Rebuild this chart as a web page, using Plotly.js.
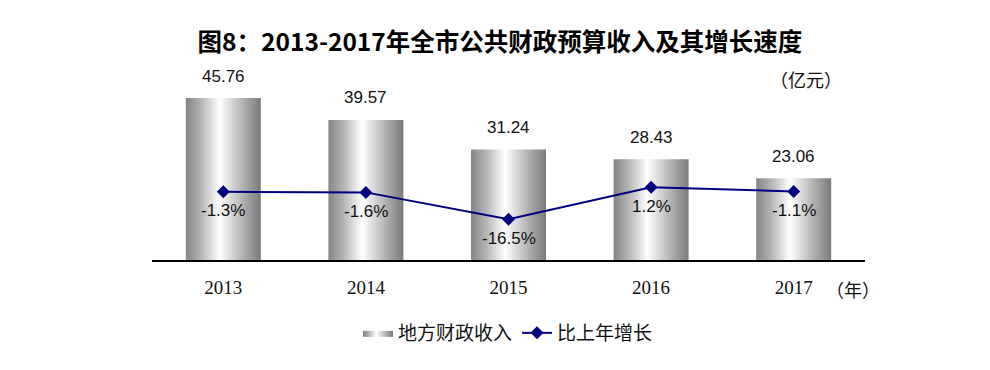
<!DOCTYPE html>
<html>
<head>
<meta charset="utf-8">
<script src="https://cdn.plot.ly/plotly-3.0.1.min.js"></script>
<style>html,body{margin:0;padding:0;background:#fff;}#chart{width:990px;height:370px;}</style>
</head>
<body>
<div id="chart"></div>
<script>
const years = ['2013', '2014', '2015', '2016', '2017'];
const revenue = [45.76, 39.57, 31.24, 28.43, 23.06];
const growth = [-1.3, -1.6, -16.5, 1.2, -1.1];
const revenueLabels = ['45.76', '39.57', '31.24', '28.43', '23.06'];
const growthLabels = ['-1.3%', '-1.6%', '-16.5%', '1.2%', '-1.1%'];
const unitY = '（亿元）';
const unitX = '（年）';

const idx = years.map((_, i) => i);
const hw = 0.263;
const gradScale = [[0, '#858585'], [0.2, '#b4b4b4'], [0.45, '#ffffff'], [0.8, '#a8a8a8'], [1, '#7a7a7a']];

const traces = [];
revenue.forEach((v, i) => {
  traces.push({
    type: 'scatter', mode: 'lines',
    x: [i - hw, i + hw, i + hw, i - hw, i - hw],
    y: [0, 0, v, v, 0],
    fill: 'toself',
    fillgradient: {type: 'horizontal', colorscale: gradScale},
    line: {width: 0, color: 'rgba(0,0,0,0)'},
    name: '地方财政收入',
    legendgroup: 'rev',
    showlegend: i === 0,
    hoverinfo: 'skip',
    xaxis: 'x', yaxis: 'y'
  });
});
traces.push({
  type: 'scatter', mode: 'lines+markers',
  x: idx, y: growth,
  name: '比上年增长',
  line: {color: '#000080', width: 2},
  marker: {symbol: 'diamond', size: 10, color: '#000080'},
  xaxis: 'x', yaxis: 'y2'
});

const L = 152, R = 865, T = 70, B = 260;
const px = (p) => (p - L) / (R - L);
const py = (p) => (B - p) / (B - T);

const numFont = {family: 'Liberation Sans, Arial', size: 17, color: '#111'};
const annotations = [];
revenue.forEach((v, i) => {
  annotations.push({x: i, y: v, xref: 'x', yref: 'y', text: revenueLabels[i], showarrow: false,
    xanchor: 'center', yanchor: 'middle', yshift: 22, font: numFont});
});
growth.forEach((g, i) => {
  annotations.push({x: i, y: g, xref: 'x', yref: 'y2', text: growthLabels[i], showarrow: false,
    xanchor: 'center', yanchor: 'middle', yshift: -19, font: numFont});
});
annotations.push({x: px(806), y: py(79), xref: 'paper', yref: 'paper', text: unitY, showarrow: false,
  xanchor: 'center', yanchor: 'middle', font: {family: 'Noto Sans CJK SC', size: 18, color: '#111'}});
annotations.push({x: px(853), y: py(289), xref: 'paper', yref: 'paper', text: unitX, showarrow: false,
  xanchor: 'center', yanchor: 'middle', font: {family: 'Noto Sans CJK SC', size: 18, color: '#111'}});

const layout = {
  width: 990, height: 370,
  margin: {l: L, r: 990 - R, t: T, b: 370 - B},
  paper_bgcolor: '#fff', plot_bgcolor: '#fff',
  title: {text: '图8：2013-2017年全市公共财政预算收入及其增长速度',
    font: {family: 'Noto Sans CJK SC', size: 24.5, color: '#000', weight: 'bold'},
    x: 0.505, xanchor: 'center', xref: 'container', y: 1 - 42 / 370, yanchor: 'middle', yref: 'container'},
  xaxis: {range: [-0.5, 4.5], tickvals: idx, ticktext: years, showgrid: false, zeroline: false,
    showline: true, linecolor: '#000', linewidth: 2, ticks: '', ticklabelstandoff: 9,
    tickfont: {family: 'Liberation Serif, Times New Roman', size: 19, color: '#111'}, fixedrange: true},
  yaxis: {range: [0, 53.67], visible: false, showgrid: false, zeroline: false},
  yaxis2: {range: [-39, 66.1], overlaying: 'y', visible: false, showgrid: false, zeroline: false},
  showlegend: true,
  legend: {orientation: 'h', x: px(508), xanchor: 'center', y: py(333), yanchor: 'middle',
    font: {family: 'Noto Sans CJK SC', size: 19, color: '#111'}, itemwidth: 30, tracegroupgap: 0},
  annotations: annotations
};

Plotly.newPlot('chart', traces, layout, {displayModeBar: false, staticPlot: true});
</script>
</body>
</html>
